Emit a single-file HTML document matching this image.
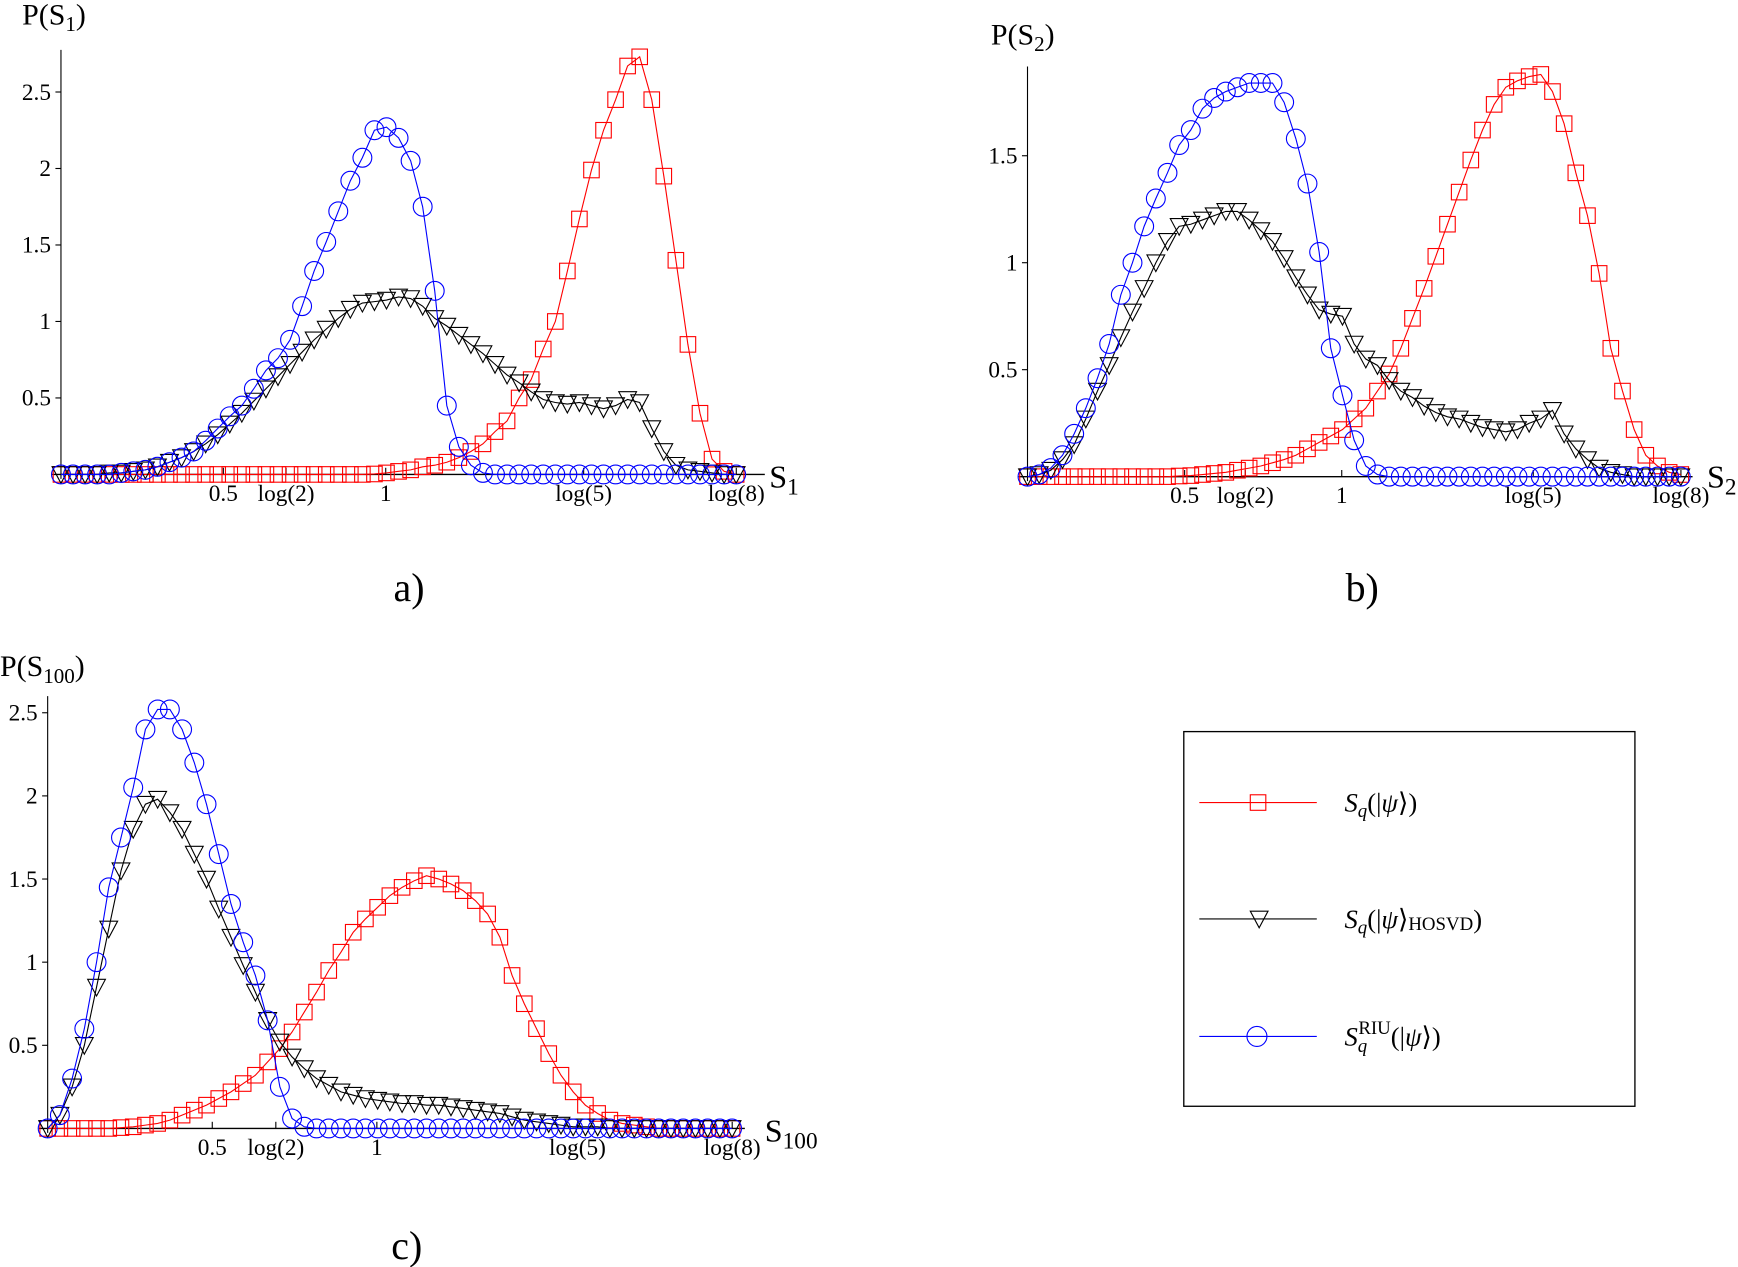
<!DOCTYPE html>
<html><head><meta charset="utf-8"><style>
html,body{margin:0;padding:0;background:#fff;}
svg{display:block;}
text{font-family:"Liberation Serif",serif;}
</style></head><body>
<svg id="fig" width="1738" height="1267" viewBox="0 0 1568 1143" preserveAspectRatio="none" xmlns="http://www.w3.org/2000/svg">
<rect x="0" y="0" width="1568" height="1143" fill="#fff"/>
<g>
<rect x="1068" y="660" width="407" height="338" fill="none" stroke="#000" stroke-width="1.2"/>
<g>
<line x1="1082" y1="724" x2="1188" y2="724" stroke="#f00" stroke-width="1"/>
<rect x="1128" y="717" width="14" height="14" fill="none" stroke="#f00" stroke-width="1"/>
<text x="1213" y="732" font-size="24" font-style="italic">S<tspan font-size="17" dy="5">q</tspan><tspan font-style="normal" dy="-5">(|</tspan>ψ<tspan font-style="normal">⟩)</tspan></text>
</g>
<g>
<line x1="1082" y1="829" x2="1188" y2="829" stroke="#000" stroke-width="1"/>
<path d="M1128,822 L1144,822 L1136,837 Z" fill="none" stroke="#000" stroke-width="1"/>
<text x="1213" y="837" font-size="24" font-style="italic">S<tspan font-size="17" dy="5">q</tspan><tspan font-style="normal" dy="-5">(|</tspan>ψ<tspan font-style="normal">⟩</tspan><tspan font-style="normal" font-size="17" dy="2">HOSVD</tspan><tspan font-style="normal" dy="-2">)</tspan></text>
</g>
<g>
<line x1="1082" y1="935" x2="1188" y2="935" stroke="#00f" stroke-width="1"/>
<circle cx="1134" cy="935" r="9" fill="none" stroke="#00f" stroke-width="1"/>
<text x="1213" y="943" font-size="24" font-style="italic">S<tspan font-size="17" dy="6">q</tspan><tspan font-style="normal" font-size="17" dx="-8" dy="-16">RIU</tspan><tspan font-style="normal" dy="10">(|</tspan>ψ<tspan font-style="normal">⟩)</tspan></text>
</g>
</g>
<text x="355" y="542" font-size="36">a)</text>
<text x="1214" y="542" font-size="36">b)</text>
<text x="353" y="1136" font-size="36">c)</text>
</svg>
<script>
var xCount = 57;
var xMax = 2.079;
var aRed = [0,0,0,0,0,0,0,0,0,0,0,0,0,0,0,0,0,0,0,0,0,0,0,0,0,0,0.003,0.01,0.02,0.03,0.05,0.06,0.08,0.11,0.15,0.2,0.28,0.35,0.5,0.62,0.82,1.0,1.33,1.67,1.99,2.25,2.45,2.67,2.73,2.45,1.95,1.4,0.85,0.4,0.1,0.02,0];
var aBlack = [0,0,0,0,0.01,0.01,0.02,0.03,0.05,0.08,0.11,0.15,0.2,0.26,0.33,0.4,0.48,0.56,0.64,0.72,0.8,0.88,0.95,1.02,1.08,1.12,1.13,1.14,1.16,1.15,1.1,1.02,0.97,0.91,0.85,0.79,0.72,0.65,0.6,0.54,0.49,0.47,0.46,0.47,0.45,0.43,0.45,0.49,0.47,0.3,0.15,0.06,0.03,0.02,0.01,0,0];
var aBlue = [0,0,0,0,0,0.01,0.02,0.03,0.05,0.08,0.11,0.15,0.22,0.3,0.38,0.45,0.56,0.68,0.76,0.88,1.1,1.33,1.52,1.72,1.92,2.07,2.25,2.27,2.2,2.05,1.75,1.2,0.45,0.18,0.06,0.01,0,0,0,0,0,0,0,0,0,0,0,0,0,0,0,0,0,0,0,0,0];
var bRed = [0,0,0,0,0,0,0,0,0,0,0,0,0,0.003,0.005,0.01,0.015,0.02,0.03,0.04,0.05,0.065,0.08,0.1,0.13,0.16,0.19,0.22,0.27,0.32,0.4,0.48,0.6,0.74,0.88,1.03,1.18,1.33,1.48,1.62,1.74,1.82,1.85,1.87,1.88,1.8,1.65,1.42,1.22,0.95,0.6,0.4,0.22,0.1,0.05,0.02,0.01];
var bBlack = [0,0.01,0.03,0.08,0.15,0.27,0.4,0.52,0.65,0.77,0.88,1.0,1.1,1.17,1.18,1.2,1.22,1.24,1.24,1.2,1.15,1.1,1.02,0.93,0.85,0.78,0.76,0.75,0.62,0.55,0.52,0.45,0.4,0.37,0.33,0.3,0.28,0.27,0.25,0.23,0.22,0.21,0.22,0.25,0.27,0.31,0.2,0.13,0.08,0.04,0.02,0.01,0,0,0,0,0];
var bBlue = [0,0.01,0.04,0.1,0.2,0.32,0.46,0.62,0.85,1.0,1.17,1.3,1.42,1.55,1.62,1.72,1.77,1.8,1.82,1.84,1.84,1.84,1.75,1.58,1.37,1.05,0.6,0.38,0.17,0.05,0.01,0,0,0,0,0,0,0,0,0,0,0,0,0,0,0,0,0,0,0,0,0,0,0,0,0,0];
var cRed = [0,0,0,0,0,0,0.005,0.01,0.02,0.03,0.05,0.08,0.11,0.14,0.18,0.22,0.27,0.32,0.4,0.48,0.58,0.7,0.82,0.95,1.06,1.18,1.26,1.33,1.4,1.45,1.49,1.52,1.5,1.47,1.43,1.37,1.29,1.15,0.92,0.75,0.6,0.45,0.32,0.22,0.14,0.09,0.05,0.03,0.02,0.01,0,0,0,0,0,0,0];
var cBlack = [0,0.08,0.25,0.5,0.85,1.2,1.55,1.8,1.95,1.98,1.9,1.8,1.65,1.5,1.32,1.15,0.98,0.82,0.65,0.52,0.43,0.36,0.3,0.26,0.22,0.2,0.18,0.17,0.16,0.15,0.15,0.14,0.14,0.13,0.12,0.11,0.1,0.09,0.07,0.05,0.04,0.03,0.02,0.01,0.01,0.01,0,0,0,0,0,0,0,0,0,0,0];
var cBlue = [0,0.08,0.3,0.6,1.0,1.45,1.75,2.05,2.4,2.52,2.52,2.4,2.2,1.95,1.65,1.35,1.12,0.92,0.65,0.25,0.06,0.01,0,0,0,0,0,0,0,0,0,0,0,0,0,0,0,0,0,0,0,0,0,0,0,0,0,0,0,0,0,0,0,0,0,0,0];
var xTickVals = [0.5, 0.6931, 1, 1.6094, 2.0794];
var xTickLabels = ["0.5", "log(2)", "1", "log(5)", "log(8)"];
var aYTicks = [0.5,1,1.5,2,2.5];
var bYTicks = [0.5,1,1.5];
var cYTicks = [0.5,1,1.5,2,2.5];

var NS = "http://www.w3.org/2000/svg";
var svg = document.getElementById('fig');
function mk(tag, attrs, parent){
  var e = document.createElementNS(NS, tag);
  for (var k in attrs) e.setAttribute(k, attrs[k]);
  parent.appendChild(e);
  return e;
}
var panels = [
 {id:'a', x0:55, y0:428, sx:293, sy:138, top:45, xEnd:690, yt:aYTicks, red:aRed, black:aBlack, blue:aBlue, yl:'1', ylx:20, yly:22, xl:'1', xlx:694, xly:440},
 {id:'b', x0:927, y0:430, sx:283.5, sy:193, top:60, xEnd:1527, yt:bYTicks, red:bRed, black:bBlack, blue:bBlue, yl:'2', ylx:894, yly:40, xl:'2', xlx:1540, xly:440},
 {id:'c', x0:43, y0:1018, sx:297, sy:150, top:628, xEnd:672, yt:cYTicks, red:cRed, black:cBlack, blue:cBlue, yl:'100', ylx:0, yly:610, xl:'100', xlx:690, xly:1030}
];
panels.forEach(function(p){
  var g = mk('g', {}, svg);
  
  
  function X(v){ return p.x0 + v * p.sx; }
  function Y(v){ return p.y0 - v * p.sy; }
  var ya = mk('line', {x1:p.x0, y1:p.top, x2:p.x0, y2:p.y0+4, stroke:'#000','stroke-width':1}, g);
  
  
  var xa = mk('line', {x1:p.x0-8, y1:p.y0, x2:p.xEnd, y2:p.y0, stroke:'#000','stroke-width':1.2}, g);
  
  
  p.yt.forEach(function(v){
    mk('line', {x1:p.x0-5, y1:Y(v), x2:p.x0, y2:Y(v), stroke:'#000'}, g);
    var t = mk('text', {x:p.x0-9, y:Y(v)+7, 'font-size':21, 'text-anchor':'end'}, g);
    t.textContent = String(v);
    
    
  });
  xTickVals.forEach(function(v, i){
    mk('line', {x1:X(v), y1:p.y0-6, x2:X(v), y2:p.y0, stroke:'#000'}, g);
    var t = mk('text', {x:X(v), y:p.y0+24, 'font-size':21, 'text-anchor':'middle'}, g);
    t.textContent = xTickLabels[i];
    
    
  });
  var yl = mk('text', {x:p.ylx, y:p.yly, 'font-size':27}, g);
  yl.innerHTML = 'P(S<tspan font-size="19" dy="6">' + p.yl + '</tspan><tspan dy="-6">)</tspan>';
  
  
  var xl = mk('text', {x:p.xlx, y:p.xly, 'font-size':29}, g);
  xl.innerHTML = 'S<tspan font-size="21" dy="6">' + p.xl + '</tspan>';
  
  
  var series = [['red', p.red, '#f00', 'sq'], ['black', p.black, '#000', 'tri'], ['blue', p.blue, '#00f', 'circ']];
  series.forEach(function(s){
    var sg = mk('g', {}, g);
    
    
    var vals = s[1], pts = [];
    for (var i = 0; i < vals.length; i++){
      var xv = i * xMax / (xCount - 1);
      pts.push(X(xv).toFixed(1) + ',' + Y(vals[i]).toFixed(1));
    }
    var pl = mk('polyline', {points:pts.join(' '), fill:'none', stroke:s[2], 'stroke-width':1}, sg);
    
    
    for (var j = 0; j < vals.length; j++){
      var cx = X(j * xMax / (xCount - 1)), cy = Y(vals[j]), m;
      if (s[3] === 'sq') m = mk('rect', {x:cx-7, y:cy-7, width:14, height:14, fill:'none', stroke:s[2]}, sg);
      else if (s[3] === 'tri') m = mk('path', {d:'M'+(cx-8)+','+(cy-7)+' L'+(cx+8)+','+(cy-7)+' L'+cx+','+(cy+8)+' Z', fill:'none', stroke:s[2]}, sg);
      else m = mk('circle', {cx:cx, cy:cy, r:8.5, fill:'none', stroke:s[2]}, sg);
      
      
    }
  });
});
</script>
</body></html>
